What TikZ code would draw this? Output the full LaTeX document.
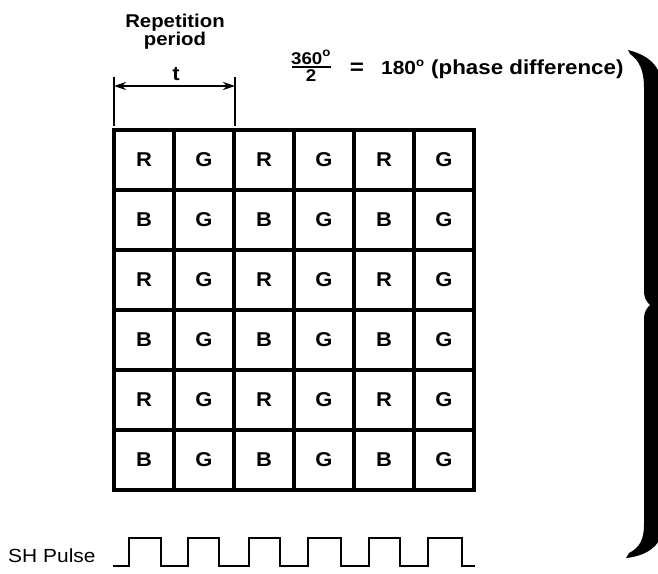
\documentclass[tikz,border=0pt]{standalone}
\usepackage{fontspec}
\setmainfont{Liberation Sans}[FakeStretch=1.1]
\usetikzlibrary{arrows.meta}
\newcommand{\dego}{\raisebox{8pt}{\fontsize{12}{12}\selectfont o}}
\tikzset{
  x=1pt,y=-1pt,
  cell/.style={draw,line width=3.6pt,minimum size=60pt,inner sep=0pt,
    font=\fontsize{20}{20}\selectfont\bfseries},
  lbl/.style={inner sep=0pt,font=\fontsize{18.5}{18.5}\selectfont\bfseries},
  tick/.style={line width=1.4pt},
  dimarrow/.style={line width=1.6pt,{Stealth[length=12pt,width=8pt]}-{Stealth[length=12pt,width=8pt]}},
  pulse/.style={line width=2pt,line join=miter},
}
\begin{document}
\begin{tikzpicture}
\useasboundingbox[fill=white] (0,0) rectangle (658,573);
% grid
\foreach \r in {0,...,5}{
  \foreach \c in {0,...,5}{
    \pgfmathsetmacro{\ev}{mod(\r,2)}
    \pgfmathsetmacro{\ec}{mod(\c,2)}
    \ifdim\ec pt=0pt
      \ifdim\ev pt=0pt \def\L{R}\else\def\L{B}\fi
    \else \def\L{G}\fi
    \node[cell] (c-\r-\c) at (144+60*\c,160+60*\r) {\L};
  }
}
% repetition period
\node[lbl,anchor=base] (rep) at (175,27) {Repetition};
\node[lbl,anchor=base] (per) at (175,45) {period};
\node[lbl,anchor=base,font=\fontsize{20}{20}\selectfont\bfseries] (t) at (176,80) {t};
\coordinate (tl1) at (114,77);
\coordinate (tl2) at (114,126);
\coordinate (tr1) at (235,77);
\coordinate (tr2) at (235,126);
\draw[tick] (tl1) -- (tl2);
\draw[tick] (tr1) -- (tr2);
\coordinate (al) at (114,86);
\coordinate (ar) at (235,86);
\draw[dimarrow] (al) -- (ar);
% formula
\node[lbl,anchor=base west,font=\fontsize{17}{17}\selectfont\bfseries] (num) at (291,64) {360\dego};
\coordinate (fb1) at (292,67);
\coordinate (fb2) at (331,67);
\draw[line width=1.6pt] (fb1) -- (fb2);
\node[lbl,anchor=base,font=\fontsize{17}{17}\selectfont\bfseries] (den) at (311,81) {2};
\node[lbl,anchor=center,font=\fontsize{22}{22}\selectfont\bfseries] (eq) at (357,69) {=};
\node[lbl,anchor=base west,font=\fontsize{19}{19}\selectfont\bfseries] (deg) at (381,74) {180\dego};
\node[lbl,anchor=base west,font=\fontsize{20.3}{20.3}\selectfont\bfseries] (phase) at (431,74) {(phase difference)};
% brace
\fill (628,50) .. controls (648,55) and (662,66) .. (662,88) -- (662,300) -- (674,306) -- (662,312)
  -- (662,528) .. controls (662,546) and (646,556) .. (626,558)
  -- (629,553) .. controls (639,548) and (644,540) .. (644,525)
  -- (644,318) .. controls (644,312) and (647,308) .. (650,305)
  .. controls (647,302) and (644,298) .. (644,292)
  -- (644,88) .. controls (644,70) and (639,60) .. (630,54) -- cycle;
% SH pulse
\node[anchor=base west,inner sep=0pt,font=\fontsize{19}{19}\selectfont] (sh) at (8,562) {SH\hspace{6pt}Pulse};
\coordinate (p0) at (113,566);
\coordinate (pe) at (475,566);
\draw[pulse] (p0) -- (129,566) -- (129,538) -- (161,538) -- (161,566)
  -- (188,566) -- (188,538) -- (219,538) -- (219,566)
  -- (249,566) -- (249,538) -- (280,538) -- (280,566)
  -- (308,566) -- (308,538) -- (341,538) -- (341,566)
  -- (369,566) -- (369,538) -- (400,538) -- (400,566)
  -- (428,566) -- (428,538) -- (462,538) -- (462,566) -- (pe);
\end{tikzpicture}
\end{document}
